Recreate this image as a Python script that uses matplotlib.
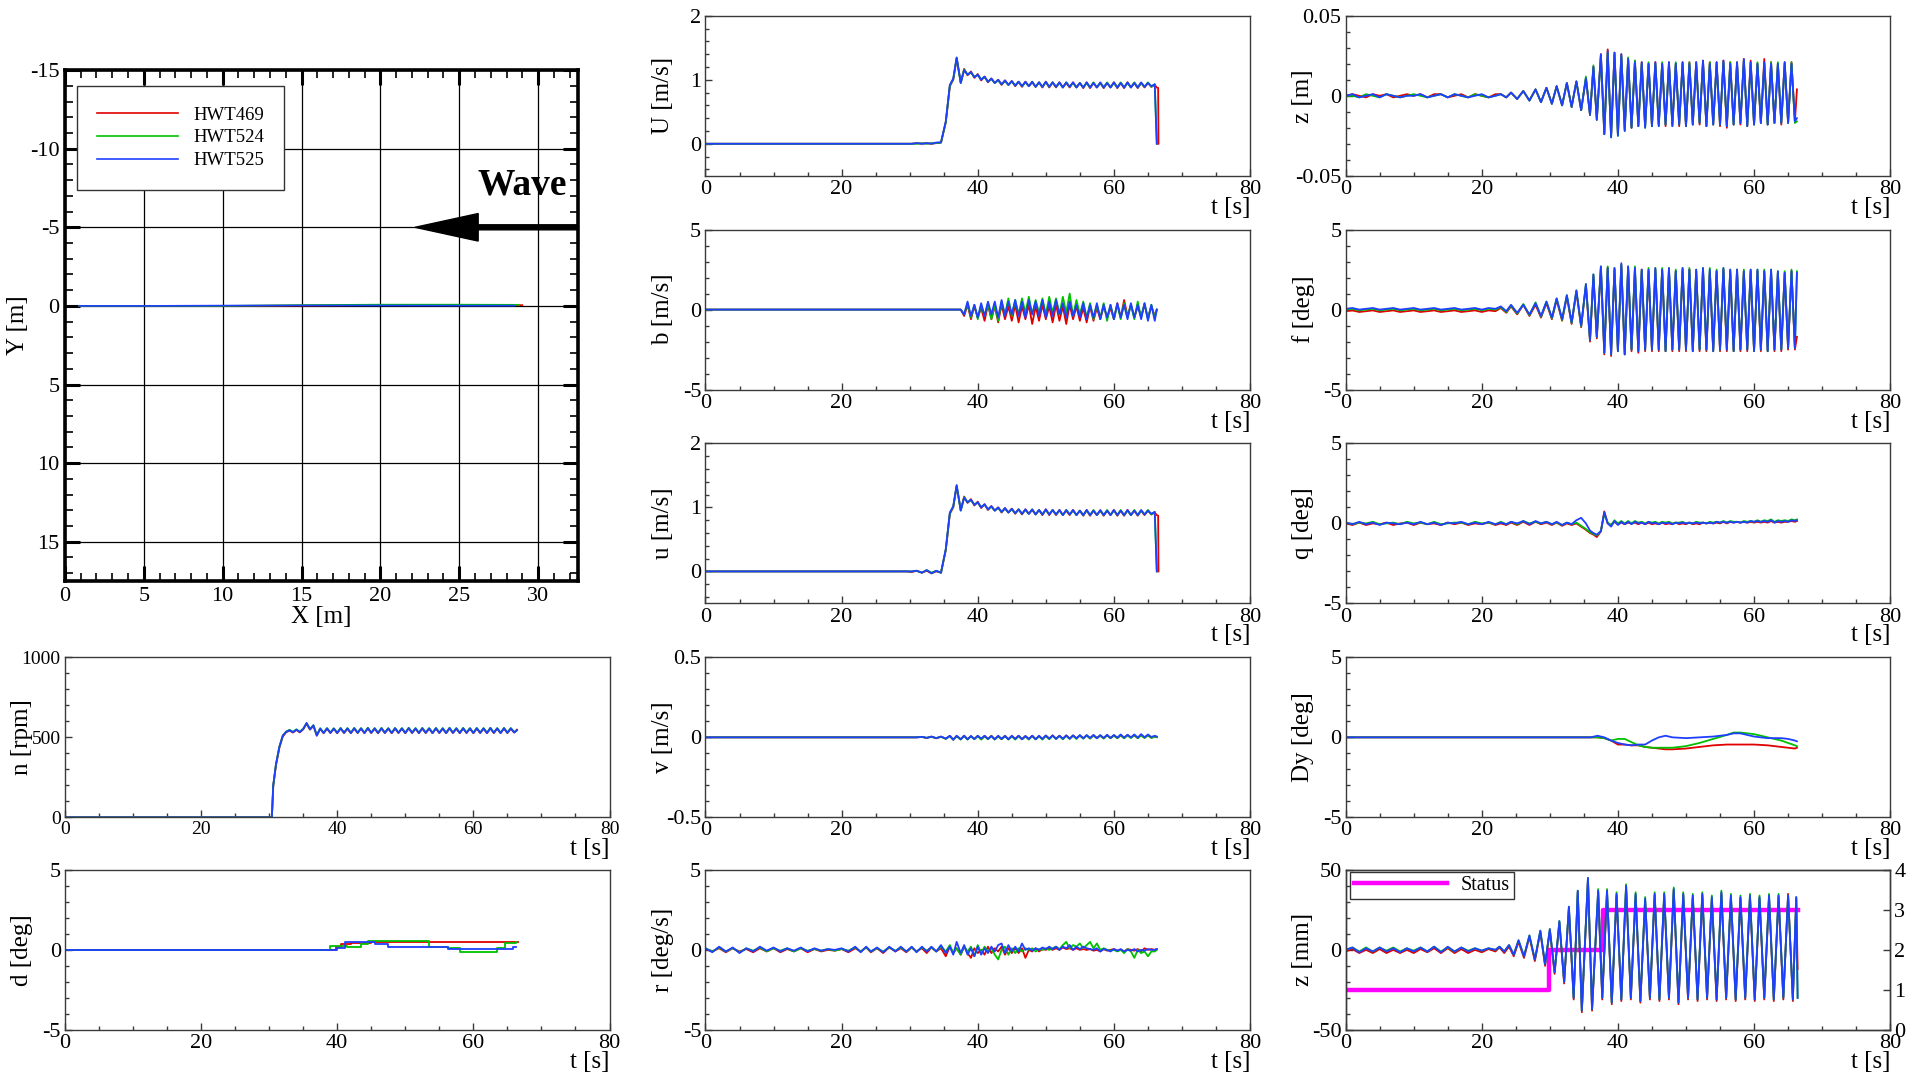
import matplotlib
matplotlib.use("Agg")
import matplotlib.pyplot as plt
from matplotlib.ticker import MultipleLocator, FuncFormatter

plt.rcParams["font.family"] = ["Liberation Serif", "DejaVu Serif"]
plt.rcParams["axes.unicode_minus"] = False

runs = ["HWT469", "HWT524", "HWT525"]
colors = ["#e00000", "#00c000", "#1f3fff"]

# ---------------- trajectory (X-Y) ----------------
X_HWT469 = [0.9, 5, 10, 15, 20, 25, 29.0]
Y_HWT469 = [0.0, 0.0, 0.0, -0.02, -0.05, -0.05, -0.05]
X_HWT524 = [0.9, 5, 10, 15, 20, 25, 28.8]
Y_HWT524 = [0.0, 0.0, 0.0, -0.05, -0.08, -0.08, -0.07]
X_HWT525 = [0.9, 5, 10, 15, 20, 25, 28.5]
Y_HWT525 = [0.0, 0.0, -0.02, -0.03, -0.03, -0.02, -0.02]

# ---------------- common time knots ----------------
t_enc = [0, 1, 2, 3, 4, 5, 6, 7, 8, 9,
         10, 11, 12, 13, 14, 15, 16, 17, 18, 19,
         20, 21, 22, 22.8, 23.6, 24.3, 25.2, 26.1, 27.0, 27.9,
         28.7, 29.5, 30.3, 31.0, 31.8, 32.5, 33.2, 33.9, 34.6, 35.3,
         35.9, 36.4, 36.9, 37.5, 38.0, 38.5, 39.0, 39.5, 40.0, 40.5,
         41.0, 41.5, 42.0, 42.5, 43.0, 43.5, 44.0, 44.5, 45.0, 45.5,
         46.0, 46.5, 47.0, 47.5, 48.0, 48.5, 49.0, 49.5, 50.0, 50.5,
         51.0, 51.5, 52.0, 52.5, 53.0, 53.5, 54.0, 54.5, 55.0, 55.5,
         56.0, 56.5, 57.0, 57.5, 58.0, 58.5, 59.0, 59.5, 60.0, 60.5,
         61.0, 61.5, 62.0, 62.5, 63.0, 63.5, 64.0, 64.5, 65.0, 65.5,
         66.0, 66.3]

t_mot = [0, 28.7, 29.5, 30.3, 31.0, 31.8, 32.5, 33.2, 33.9, 34.6, 35.3,
         35.9, 36.4, 36.9, 37.5, 38.0, 38.5, 39.0, 39.5, 40.0, 40.5,
         41.0, 41.5, 42.0, 42.5, 43.0, 43.5, 44.0, 44.5, 45.0, 45.5,
         46.0, 46.5, 47.0, 47.5, 48.0, 48.5, 49.0, 49.5, 50.0, 50.5,
         51.0, 51.5, 52.0, 52.5, 53.0, 53.5, 54.0, 54.5, 55.0, 55.5,
         56.0, 56.5, 57.0, 57.5, 58.0, 58.5, 59.0, 59.5, 60.0, 60.5,
         61.0, 61.5, 62.0, 62.5, 63.0, 63.5, 64.0, 64.5, 65.0, 65.5,
         66.0, 66.3]

# ---------------- U [m/s] ----------------
U_HWT469 = [0.0, 0.0, 0.0, 0.0, 0.01, 0.0, 0.01, 0.0, 0.01, 0.02, 0.33,
            0.90, 1.00, 1.33, 0.96, 1.17, 1.07, 1.13, 1.03, 1.09, 0.99,
            1.05, 0.96, 1.02, 0.95, 1.00, 0.92, 0.99, 0.92, 0.98, 0.90,
            0.97, 0.89, 0.97, 0.90, 0.96, 0.89, 0.96, 0.88, 0.97, 0.88,
            0.96, 0.88, 0.96, 0.88, 0.95, 0.88, 0.96, 0.88, 0.95, 0.87,
            0.96, 0.87, 0.95, 0.88, 0.95, 0.87, 0.95, 0.88, 0.96, 0.87,
            0.95, 0.87, 0.96, 0.88, 0.95, 0.87, 0.95, 0.88, 0.95, 0.89,
            0.92, 0.88]
U_HWT524 = [0.0, 0.0, 0.0, 0.0, 0.0, 0.01, 0.0, 0.01, 0.01, 0.02, 0.34,
            0.91, 1.01, 1.34, 0.95, 1.16, 1.08, 1.11, 1.05, 1.07, 1.01,
            1.04, 0.97, 1.01, 0.95, 0.99, 0.93, 0.98, 0.92, 0.97, 0.91,
            0.97, 0.90, 0.96, 0.90, 0.97, 0.89, 0.96, 0.89, 0.96, 0.89,
            0.96, 0.89, 0.95, 0.88, 0.96, 0.89, 0.95, 0.88, 0.95, 0.88,
            0.95, 0.88, 0.96, 0.88, 0.95, 0.88, 0.96, 0.88, 0.95, 0.88,
            0.96, 0.88, 0.95, 0.88, 0.96, 0.88, 0.95, 0.89, 0.96, 0.89,
            0.93, 0.0]
U_HWT525 = [0.0, 0.0, 0.0, 0.0, 0.01, 0.0, 0.01, 0.0, 0.02, 0.02, 0.35,
            0.92, 1.02, 1.35, 0.95, 1.15, 1.08, 1.12, 1.04, 1.08, 1.00,
            1.05, 0.97, 1.02, 0.95, 1.00, 0.93, 0.99, 0.92, 0.98, 0.91,
            0.97, 0.90, 0.97, 0.90, 0.97, 0.89, 0.96, 0.89, 0.97, 0.89,
            0.96, 0.89, 0.96, 0.88, 0.96, 0.89, 0.96, 0.88, 0.95, 0.88,
            0.96, 0.88, 0.95, 0.88, 0.96, 0.88, 0.95, 0.88, 0.96, 0.88,
            0.95, 0.88, 0.96, 0.88, 0.95, 0.88, 0.96, 0.89, 0.95, 0.90,
            0.93, 0.0]
U_tail_t_HWT469 = [66.5, 66.55]
U_tail_HWT469 = [0.87, 0.0]

# ---------------- u [m/s] ----------------
u_HWT469 = [0.0, 0.0, 0.0, -0.01, 0.01, -0.02, 0.01, -0.03, 0.0, -0.02, 0.33,
            0.90, 1.00, 1.33, 0.96, 1.17, 1.07, 1.13, 1.03, 1.09, 0.99,
            1.05, 0.96, 1.02, 0.95, 1.00, 0.92, 0.99, 0.92, 0.98, 0.90,
            0.97, 0.89, 0.97, 0.90, 0.96, 0.89, 0.96, 0.88, 0.97, 0.88,
            0.96, 0.88, 0.96, 0.88, 0.95, 0.88, 0.96, 0.88, 0.95, 0.87,
            0.96, 0.87, 0.95, 0.88, 0.95, 0.87, 0.95, 0.88, 0.96, 0.87,
            0.95, 0.87, 0.96, 0.88, 0.95, 0.87, 0.95, 0.88, 0.95, 0.89,
            0.92, 0.88]
u_HWT524 = [0.0, 0.0, 0.0, 0.0, 0.01, -0.02, 0.02, -0.02, 0.01, -0.02, 0.34,
            0.91, 1.01, 1.34, 0.95, 1.16, 1.08, 1.11, 1.05, 1.07, 1.01,
            1.04, 0.97, 1.01, 0.95, 0.99, 0.93, 0.98, 0.92, 0.97, 0.91,
            0.97, 0.90, 0.96, 0.90, 0.97, 0.89, 0.96, 0.89, 0.96, 0.89,
            0.96, 0.89, 0.95, 0.88, 0.96, 0.89, 0.95, 0.88, 0.95, 0.88,
            0.95, 0.88, 0.96, 0.88, 0.95, 0.88, 0.96, 0.88, 0.95, 0.88,
            0.96, 0.88, 0.95, 0.88, 0.96, 0.88, 0.95, 0.89, 0.96, 0.89,
            0.93, 0.0]
u_HWT525 = [0.0, 0.0, 0.0, 0.0, 0.01, -0.02, 0.02, -0.03, 0.01, -0.02, 0.35,
            0.92, 1.02, 1.35, 0.95, 1.15, 1.08, 1.12, 1.04, 1.08, 1.00,
            1.05, 0.97, 1.02, 0.95, 1.00, 0.93, 0.99, 0.92, 0.98, 0.91,
            0.97, 0.90, 0.97, 0.90, 0.97, 0.89, 0.96, 0.89, 0.97, 0.89,
            0.96, 0.89, 0.96, 0.88, 0.96, 0.89, 0.96, 0.88, 0.95, 0.88,
            0.96, 0.88, 0.95, 0.88, 0.96, 0.88, 0.95, 0.88, 0.96, 0.88,
            0.95, 0.88, 0.96, 0.88, 0.95, 0.88, 0.96, 0.89, 0.95, 0.90,
            0.93, 0.0]
u_tail_t_HWT469 = [66.5, 66.55]
u_tail_HWT469 = [0.87, 0.0]

# ---------------- b [m/s] ----------------
b_HWT469 = [0, 0, 0, 0, 0, 0, 0, 0, 0, 0, 0,
            0, 0, 0, 0, -0.4, 0.3, -0.6, 0.2, -0.5, 0.1,
            -0.7, 0.3, -0.6, 0.2, -0.8, 0.3, -0.6, 0.2, -0.7, 0.3,
            -0.8, 0.2, -0.6, 0.3, -0.9, 0.2, -0.7, 0.3, -0.6, 0.2,
            -0.8, 0.3, -0.7, 0.2, -0.9, 0.3, -0.6, 0.2, -0.7, 0.1,
            -0.8, 0.2, -0.7, 0.1, -0.6, 0.2, -0.5, 0.1, -0.6, 0.4,
            -0.5, 0.6, -0.4, 0.3, -0.5, 0.2, -0.4, 0.3, -0.5, 0.2,
            -0.4, 0.0]
b_HWT524 = [0, 0, 0, 0, 0, 0, 0, 0, 0, 0, 0,
            0, 0, 0, 0, -0.3, 0.4, -0.5, 0.3, -0.6, 0.3,
            -0.4, 0.4, -0.6, 0.3, -0.7, 0.5, -0.3, 0.7, -0.4, 0.6,
            -0.3, 0.7, -0.2, 0.8, -0.3, 0.6, -0.2, 0.7, -0.3, 0.8,
            -0.2, 0.7, -0.3, 0.8, -0.2, 1.0, -0.4, 0.6, -0.3, 0.5,
            -0.5, 0.4, -0.6, 0.3, -0.5, 0.4, -0.7, 0.3, -0.6, 0.3,
            -0.6, 0.4, -0.5, 0.3, -0.6, 0.5, -0.5, 0.4, -0.6, 0.3,
            -0.5, 0.0]
b_HWT525 = [0, 0, 0, 0, 0, 0, 0, 0, 0, 0, 0,
            0, 0, 0, 0, -0.3, 0.5, -0.4, 0.3, -0.5, 0.4,
            -0.4, 0.5, -0.3, 0.5, -0.5, 0.6, -0.4, 0.5, -0.3, 0.6,
            -0.4, 0.5, -0.5, 0.6, -0.3, 0.5, -0.4, 0.6, -0.5, 0.5,
            -0.4, 0.6, -0.3, 0.4, -0.5, 0.5, -0.4, 0.3, -0.5, 0.4,
            -0.6, 0.3, -0.5, 0.4, -0.6, 0.3, -0.5, 0.3, -0.6, 0.4,
            -0.5, 0.3, -0.6, 0.4, -0.5, 0.3, -0.6, 0.4, -0.7, 0.3,
            -0.7, 0.0]

# ---------------- v [m/s] ----------------
v_HWT469 = [0, 0, 0, 0, 0, 0.002, -0.004, 0.004, -0.006, 0.004, -0.008,
            0.008, -0.014, 0.008, -0.012, 0.010, -0.012, 0.008, -0.010, 0.008, -0.012,
            0.008, -0.010, 0.010, -0.012, 0.008, -0.010, 0.010, -0.012, 0.008, -0.010,
            0.010, -0.012, 0.008, -0.010, 0.010, -0.012, 0.008, -0.010, 0.010, -0.008,
            0.012, -0.008, 0.010, -0.010, 0.012, -0.008, 0.012, -0.006, 0.010, -0.006,
            0.012, -0.006, 0.012, -0.004, 0.010, -0.006, 0.012, -0.004, 0.010, -0.004,
            0.012, -0.004, 0.014, -0.002, 0.012, -0.004, 0.014, -0.002, 0.012, -0.002,
            0.004, 0.002]
v_HWT524 = [0, 0, 0, 0, 0, 0.003, -0.003, 0.004, -0.005, 0.004, -0.010,
            0.008, -0.015, 0.006, -0.014, 0.008, -0.014, 0.006, -0.012, 0.008, -0.014,
            0.006, -0.012, 0.008, -0.014, 0.006, -0.012, 0.008, -0.014, 0.006, -0.014,
            0.008, -0.012, 0.006, -0.014, 0.008, -0.012, 0.006, -0.014, 0.008, -0.012,
            0.010, -0.010, 0.008, -0.012, 0.010, -0.010, 0.010, -0.010, 0.012, -0.008,
            0.012, -0.008, 0.012, -0.006, 0.012, -0.008, 0.014, -0.006, 0.012, -0.006,
            0.014, -0.006, 0.012, -0.004, 0.014, -0.006, 0.012, -0.004, 0.014, -0.004,
            0.004, 0.000]
v_HWT525 = [0, 0, 0, 0, 0, 0.003, -0.003, 0.005, -0.005, 0.005, -0.008,
            0.010, -0.015, 0.010, -0.012, 0.010, -0.012, 0.008, -0.010, 0.010, -0.008,
            0.010, -0.010, 0.008, -0.012, 0.010, -0.010, 0.008, -0.012, 0.010, -0.010,
            0.010, -0.012, 0.008, -0.010, 0.010, -0.012, 0.010, -0.010, 0.012, -0.008,
            0.012, -0.010, 0.010, -0.008, 0.012, -0.008, 0.012, -0.006, 0.014, -0.006,
            0.014, -0.004, 0.015, -0.005, 0.014, -0.004, 0.016, -0.004, 0.015, -0.002,
            0.018, -0.002, 0.016, 0.000, 0.018, -0.002, 0.020, 0.000, 0.018, 0.002,
            0.010, 0.005]

# ---------------- r [deg/s] ----------------
r_HWT469 = [0.05, -0.1, 0.1, -0.15, 0.1, -0.1, 0.05, -0.15, 0.1, -0.1,
            0.1, -0.15, 0.05, -0.1, 0.1, -0.15, 0.05, -0.1, 0.0, -0.05,
            0.05, -0.15, 0.1, -0.1, 0.15, -0.15, 0.1, -0.2, 0.15, -0.1,
            0.1, -0.15, 0.15, -0.1, 0.1, -0.2, 0.15, -0.1, 0.1, -0.4,
            0.2, -0.2, 0.1, -0.3, 0.2, -0.2, -0.5, 0.1, -0.2, 0.0,
            -0.3, 0.2, -0.2, 0.1, -0.1, 0.2, -0.3, 0.1, -0.2, 0.1,
            -0.2, 0.1, -0.5, 0.0, -0.1, 0.1, -0.1, 0.05, 0.0, 0.1,
            0.0, 0.1, 0.0, 0.15, 0.05, 0.1, 0.0, 0.1, 0.0, 0.05,
            0.0, 0.05, -0.05, 0.0, -0.1, 0.05, -0.05, 0.0, 0.05, -0.05,
            0.0, -0.1, 0.05, 0.0, -0.05, 0.05, -0.1, 0.1, 0.0, 0.05,
            0.0, 0.05]
r_HWT524 = [0.1, -0.1, 0.15, -0.1, 0.1, -0.15, 0.1, -0.05, 0.15, -0.1,
            0.1, -0.05, 0.1, -0.1, 0.1, -0.05, 0.05, -0.05, 0.05, -0.05,
            0.05, -0.05, 0.15, -0.1, 0.15, -0.1, 0.1, -0.1, 0.15, -0.05,
            0.15, -0.1, 0.15, -0.1, 0.15, -0.05, 0.15, -0.1, 0.2, -0.1,
            0.3, -0.2, 0.1, -0.3, 0.2, -0.1, 0.2, -0.4, 0.3, -0.2,
            0.2, -0.1, 0.1, -0.3, -0.6, 0.0, 0.2, -0.3, 0.1, -0.2,
            0.1, -0.1, 0.1, 0.0, 0.1, -0.1, 0.05, 0.0, 0.1, 0.0,
            0.1, 0.2, 0.05, 0.3, 0.5, 0.1, 0.3, 0.2, 0.4, 0.1,
            0.3, 0.5, 0.1, 0.4, 0.0, 0.1, 0.0, -0.05, 0.0, -0.1,
            0.0, -0.2, 0.05, -0.1, -0.5, 0.0, -0.2, -0.1, -0.4, -0.1,
            -0.1, 0.0]
r_HWT525 = [0.1, -0.15, 0.2, -0.1, 0.15, -0.2, 0.1, -0.1, 0.2, -0.05,
            0.15, -0.1, 0.1, -0.05, 0.15, -0.1, 0.1, -0.05, 0.05, 0.0,
            0.1, -0.1, 0.2, -0.15, 0.2, -0.1, 0.15, -0.15, 0.2, -0.1,
            0.2, -0.1, 0.2, -0.15, 0.2, -0.1, 0.2, -0.1, 0.3, -0.2,
            0.2, -0.3, 0.5, -0.2, 0.3, -0.3, 0.1, -0.4, 0.2, -0.3,
            0.1, -0.2, 0.2, -0.1, 0.3, 0.4, -0.2, 0.3, -0.1, 0.2,
            -0.1, 0.4, 0.0, 0.1, -0.05, 0.1, 0.0, 0.15, 0.05, 0.2,
            0.05, 0.2, 0.0, 0.2, 0.1, 0.3, 0.0, 0.2, 0.05, 0.2,
            0.1, 0.05, 0.0, 0.1, -0.1, 0.05, 0.0, -0.1, 0.05, -0.05,
            0.05, -0.1, 0.0, -0.05, 0.05, -0.1, 0.0, -0.05, 0.05, 0.0,
            0.0, 0.05]

# ---------------- z [m] ----------------
zm_HWT469 = [0.000, 0.001, 0.000, -0.001, 0.001, 0.000, 0.001, -0.001, 0.000, 0.001,
             0.000, 0.001, -0.001, 0.001, 0.001, -0.001, 0.000, 0.001, -0.001, 0.001,
             0.000, -0.001, 0.001, 0.001, -0.001, 0.002, -0.002, 0.003, -0.003, 0.004,
             -0.004, 0.005, -0.005, 0.006, -0.006, 0.008, -0.007, 0.009, -0.009, 0.011,
             -0.012, 0.018, -0.015, 0.026, -0.024, 0.029, -0.025, 0.027, -0.024, 0.026,
             -0.021, 0.023, -0.020, 0.022, -0.019, 0.021, -0.019, 0.020, -0.019, 0.021,
             -0.018, 0.020, -0.019, 0.021, -0.018, 0.020, -0.019, 0.021, -0.019, 0.021,
             -0.018, 0.021, -0.018, 0.022, -0.019, 0.021, -0.018, 0.021, -0.019, 0.022,
             -0.020, 0.021, -0.018, 0.021, -0.018, 0.023, -0.019, 0.022, -0.018, 0.020,
             -0.017, 0.023, -0.018, 0.021, -0.017, 0.020, -0.018, 0.021, -0.017, 0.021,
             -0.016, 0.004]
zm_HWT524 = [0.000, 0.000, -0.001, 0.001, 0.000, -0.001, 0.001, 0.000, -0.001, 0.000,
             0.001, 0.000, -0.001, 0.000, 0.001, -0.001, 0.001, 0.000, -0.001, 0.001,
             0.000, -0.001, 0.000, 0.001, -0.001, 0.002, -0.002, 0.003, -0.003, 0.004,
             -0.004, 0.005, -0.005, 0.006, -0.006, 0.008, -0.007, 0.009, -0.009, 0.012,
             -0.012, 0.019, -0.015, 0.025, -0.024, 0.027, -0.026, 0.026, -0.025, 0.025,
             -0.022, 0.024, -0.020, 0.022, -0.019, 0.020, -0.020, 0.021, -0.019, 0.020,
             -0.019, 0.021, -0.018, 0.020, -0.019, 0.021, -0.018, 0.020, -0.019, 0.021,
             -0.018, 0.020, -0.017, 0.021, -0.019, 0.021, -0.018, 0.020, -0.018, 0.021,
             -0.019, 0.021, -0.018, 0.020, -0.017, 0.022, -0.019, 0.020, -0.018, 0.021,
             -0.017, 0.020, -0.018, 0.021, -0.017, 0.021, -0.017, 0.020, -0.017, 0.021,
             -0.017, -0.016]
zm_HWT525 = [0.000, 0.001, -0.001, 0.000, 0.001, -0.001, 0.001, 0.000, -0.001, 0.000,
             0.000, 0.001, -0.001, 0.000, 0.001, -0.001, 0.001, 0.000, -0.001, 0.000,
             0.001, -0.001, 0.000, 0.001, -0.001, 0.002, -0.002, 0.003, -0.003, 0.004,
             -0.004, 0.005, -0.005, 0.006, -0.006, 0.008, -0.007, 0.009, -0.009, 0.011,
             -0.012, 0.018, -0.015, 0.026, -0.024, 0.028, -0.026, 0.027, -0.025, 0.026,
             -0.022, 0.023, -0.020, 0.021, -0.019, 0.021, -0.020, 0.020, -0.019, 0.021,
             -0.019, 0.020, -0.018, 0.021, -0.019, 0.020, -0.018, 0.021, -0.019, 0.020,
             -0.018, 0.021, -0.017, 0.022, -0.019, 0.020, -0.018, 0.021, -0.018, 0.022,
             -0.019, 0.020, -0.018, 0.021, -0.017, 0.023, -0.019, 0.021, -0.018, 0.020,
             -0.017, 0.021, -0.018, 0.020, -0.017, 0.020, -0.017, 0.021, -0.017, 0.020,
             -0.016, -0.014]

# ---------------- f [deg] ----------------
f_HWT469 = [-0.1, -0.05, -0.15, -0.1, -0.05, -0.15, -0.1, -0.05, -0.15, -0.1,
            -0.05, -0.15, -0.1, -0.05, -0.15, -0.1, -0.05, -0.15, -0.1, -0.05,
            -0.15, -0.05, -0.1, 0.1, -0.2, 0.2, -0.3, 0.3, -0.4, 0.3,
            -0.5, 0.4, -0.6, 0.6, -0.7, 0.8, -0.9, 1.1, -1.1, 1.5,
            -2.0, 2.1, -1.8, 2.6, -2.8, 2.6, -2.9, 2.5, -2.6, 2.8,
            -2.8, 2.6, -2.6, 2.5, -2.7, 2.5, -2.6, 2.4, -2.6, 2.5,
            -2.6, 2.5, -2.6, 2.5, -2.6, 2.4, -2.6, 2.5, -2.6, 2.5,
            -2.6, 2.4, -2.6, 2.5, -2.6, 2.4, -2.6, 2.4, -2.6, 2.5,
            -2.6, 2.4, -2.6, 2.5, -2.6, 2.4, -2.6, 2.4, -2.6, 2.4,
            -2.6, 2.4, -2.6, 2.4, -2.6, 2.3, -2.6, 2.3, -2.5, 2.4,
            -2.5, -1.7]
f_HWT524 = [0.0, 0.05, -0.05, 0.0, 0.05, -0.05, 0.0, 0.05, -0.05, 0.0,
            0.05, -0.05, 0.0, 0.05, -0.05, 0.0, 0.05, -0.05, 0.0, 0.05,
            -0.05, 0.05, 0.0, 0.15, -0.15, 0.25, -0.25, 0.35, -0.35, 0.45,
            -0.45, 0.5, -0.55, 0.7, -0.65, 0.9, -0.85, 1.2, -1.05, 1.6,
            -1.9, 2.2, -1.7, 2.7, -2.7, 2.7, -2.8, 2.6, -2.6, 2.8,
            -2.8, 2.7, -2.5, 2.7, -2.6, 2.5, -2.5, 2.6, -2.5, 2.6,
            -2.5, 2.6, -2.6, 2.6, -2.5, 2.5, -2.5, 2.6, -2.5, 2.6,
            -2.6, 2.5, -2.5, 2.6, -2.5, 2.6, -2.6, 2.5, -2.5, 2.6,
            -2.5, 2.5, -2.6, 2.5, -2.5, 2.5, -2.5, 2.5, -2.6, 2.5,
            -2.5, 2.5, -2.6, 2.5, -2.5, 2.4, -2.5, 2.4, -2.4, 2.5,
            -2.4, 2.4]
f_HWT525 = [0.05, 0.1, 0.0, 0.05, 0.1, 0.0, 0.05, 0.1, 0.0, 0.05,
            0.1, 0.0, 0.05, 0.1, 0.0, 0.05, 0.1, 0.0, 0.05, 0.1,
            0.0, 0.1, 0.05, 0.2, -0.1, 0.3, -0.2, 0.3, -0.3, 0.4,
            -0.4, 0.5, -0.5, 0.7, -0.6, 0.9, -0.8, 1.2, -1.0, 1.6,
            -1.9, 2.2, -1.7, 2.7, -2.7, 2.6, -2.8, 2.6, -2.6, 2.9,
            -2.8, 2.7, -2.5, 2.6, -2.6, 2.5, -2.5, 2.5, -2.5, 2.6,
            -2.5, 2.5, -2.6, 2.6, -2.5, 2.4, -2.5, 2.6, -2.5, 2.5,
            -2.6, 2.5, -2.5, 2.6, -2.5, 2.5, -2.6, 2.4, -2.5, 2.6,
            -2.5, 2.5, -2.6, 2.5, -2.5, 2.4, -2.5, 2.5, -2.6, 2.5,
            -2.5, 2.4, -2.6, 2.5, -2.5, 2.4, -2.5, 2.3, -2.4, 2.4,
            -2.4, 2.3]

# ---------------- q [deg] ----------------
q_HWT469 = [0.0, -0.1, 0.05, -0.1, 0.0, -0.05, 0.05, -0.1, 0.0, 0.05,
            -0.1, 0.05, -0.05, 0.0, -0.1, 0.05, -0.05, 0.05, -0.1, 0.0,
            -0.05, 0.05, -0.1, 0.0, -0.1, 0.05, -0.1, 0.1, -0.1, 0.1,
            -0.05, 0.05, -0.1, 0.05, -0.15, 0.0, -0.1, 0.0, -0.2, -0.4,
            -0.6, -0.7, -0.85, -0.5, 0.75, 0.0, -0.1, 0.1, -0.05, 0.05,
            -0.05, 0.05, 0.0, 0.05, -0.05, 0.05, -0.05, 0.05, -0.05, 0.0,
            -0.05, 0.05, -0.05, 0.0, -0.05, 0.05, -0.05, 0.0, -0.05, 0.05,
            -0.05, 0.0, -0.05, 0.05, 0.0, 0.05, 0.0, 0.05, 0.0, 0.1,
            0.0, 0.1, 0.05, 0.1, 0.05, 0.1, 0.05, 0.1, 0.05, 0.1,
            0.05, 0.1, 0.05, 0.15, 0.05, 0.1, 0.05, 0.1, 0.1, 0.15,
            0.1, 0.15]
q_HWT524 = [0.05, -0.05, 0.05, 0.0, 0.1, -0.05, 0.0, 0.05, -0.05, 0.1,
            0.0, 0.05, -0.05, 0.1, -0.05, 0.0, 0.05, 0.05, -0.05, 0.1,
            0.0, 0.05, -0.05, 0.1, -0.05, 0.1, -0.05, 0.15, 0.0, 0.1,
            0.0, 0.1, -0.05, 0.05, -0.1, 0.05, -0.05, 0.05, -0.15, -0.35,
            -0.55, -0.65, -0.75, -0.45, 0.6, 0.05, -0.1, 0.2, 0.0, 0.15,
            0.0, 0.15, 0.0, 0.15, 0.05, 0.1, 0.0, 0.1, 0.05, 0.1,
            0.0, 0.1, 0.05, 0.1, 0.0, 0.05, 0.05, 0.1, 0.0, 0.05,
            0.0, 0.1, 0.05, 0.05, 0.0, 0.1, 0.05, 0.1, 0.05, 0.15,
            0.05, 0.15, 0.1, 0.1, 0.05, 0.15, 0.1, 0.15, 0.1, 0.2,
            0.1, 0.2, 0.15, 0.25, 0.1, 0.2, 0.15, 0.2, 0.15, 0.25,
            0.2, 0.25]
q_HWT525 = [0.05, -0.05, 0.1, -0.05, 0.05, -0.1, 0.05, 0.0, -0.05, 0.05,
            -0.05, 0.1, -0.05, 0.05, -0.1, 0.05, 0.0, 0.1, -0.05, 0.05,
            -0.05, 0.1, -0.05, 0.05, -0.05, 0.1, 0.0, 0.15, -0.05, 0.15,
            0.0, 0.1, -0.05, 0.1, -0.1, 0.05, -0.05, 0.2, 0.35, 0.0,
            -0.45, -0.6, -0.7, -0.5, 0.7, 0.0, -0.2, 0.15, -0.1, 0.1,
            -0.05, 0.1, -0.05, 0.1, 0.0, 0.05, -0.05, 0.1, 0.0, 0.05,
            -0.05, 0.05, 0.0, 0.05, -0.05, 0.05, 0.0, 0.05, 0.0, 0.05,
            0.0, 0.05, 0.0, 0.05, 0.0, 0.05, 0.0, 0.1, 0.05, 0.1,
            0.05, 0.1, 0.05, 0.1, 0.05, 0.1, 0.05, 0.15, 0.1, 0.15,
            0.1, 0.15, 0.1, 0.2, 0.05, 0.15, 0.1, 0.15, 0.1, 0.2,
            0.15, 0.2]

# ---------------- Dy [deg] ----------------
t_Dy = [0, 20, 36, 37, 38, 39, 40, 41, 42, 43,
        44, 45, 46, 47, 48, 50, 52, 54, 56, 57,
        58, 60, 62, 64, 65, 66, 66.3]
Dy_HWT469 = [0, 0, 0, 0, -0.05, -0.2, -0.45, -0.45, -0.5, -0.5,
             -0.6, -0.65, -0.7, -0.75, -0.75, -0.7, -0.6, -0.5, -0.45, -0.45,
             -0.45, -0.45, -0.5, -0.6, -0.65, -0.7, -0.65]
Dy_HWT524 = [0, 0, 0, 0, -0.05, -0.2, -0.1, -0.1, -0.3, -0.5,
             -0.6, -0.65, -0.65, -0.65, -0.65, -0.55, -0.35, -0.1, 0.15, 0.3,
             0.3, 0.2, 0.0, -0.2, -0.35, -0.5, -0.55]
Dy_HWT525 = [0, 0, 0, 0.1, 0.0, -0.2, -0.35, -0.45, -0.5, -0.45,
             -0.45, -0.2, 0.0, 0.1, 0.0, -0.05, 0.0, 0.05, 0.15, 0.25,
             0.25, 0.05, -0.05, -0.05, -0.1, -0.2, -0.25]

# ---------------- z [mm] (wave probe) ----------------
t_wp = [0, 1, 2, 3, 4, 5, 6, 7, 8, 9,
        10, 11, 12, 13, 14, 15, 16, 17, 18, 19,
        20, 21, 22, 22.6, 23.3, 24.0, 24.7, 25.4, 26.2, 27.0,
        27.8, 28.6, 29.3, 30.0, 30.7, 31.4, 32.1, 32.8, 33.5, 34.1,
        34.7, 35.6, 36.2, 37.1, 37.7, 38.4, 39.1, 39.8, 40.5, 41.2,
        41.9, 42.6, 43.3, 44.0, 44.7, 45.4, 46.1, 46.8, 47.5, 48.2,
        48.9, 49.6, 50.3, 51.0, 51.7, 52.4, 53.1, 53.8, 54.5, 55.2,
        55.9, 56.6, 57.3, 58.0, 58.7, 59.4, 60.1, 60.8, 61.5, 62.2,
        62.9, 63.6, 64.3, 65.0, 65.7, 66.2, 66.4]
zmm_HWT469 = [-1, 0.5, -2, 0, -2, 0.5, -2, 0, -2, 0,
              -2, 0.5, -1.5, 1, -2, 1, -2, 0.5, -2, 0,
              -1.5, 0.5, -1, 1.5, -2, 2, -4, 5, -5, 8,
              -7, 11, -10, 12, -15, 17, -21, 26, -31, 36,
              -39, 44, -38, 36, -31, 36, -34, 34, -32, 39,
              -31, 34, -33, 31, -31, 34, -32, 34, -31, 37,
              -34, 34, -31, 33, -32, 34, -31, 32, -32, 35,
              -31, 33, -32, 32, -31, 33, -32, 32, -31, 33,
              -32, 33, -31, 35, -32, 32, -12]
zmm_HWT524 = [0, 1.5, -1, 1.5, -1, 1.5, -0.5, 1.5, -1, 1,
              -0.5, 1.5, -1, 2, -1, 1.5, -1, 1.5, -0.5, 1,
              -0.5, 1, 0, 2, -1, 3, -3, 6, -4, 9,
              -6, 12, -9, 13, -14, 18, -20, 27, -30, 37,
              -38, 45, -37, 38, -30, 38, -33, 36, -31, 41,
              -30, 36, -32, 33, -30, 36, -31, 36, -30, 39,
              -33, 36, -30, 35, -31, 36, -30, 34, -31, 37,
              -30, 35, -31, 34, -30, 35, -31, 34, -30, 35,
              -31, 35, -30, 34, -31, 33, -30]
zmm_HWT525 = [0, 1.5, -1.5, 1, -1, 1.5, -1, 1, -1.5, 1,
              -1, 1.5, -1, 2, -1.5, 2, -1, 1.5, -1, 1,
              -0.5, 1, 0, 2, -1, 3, -3, 6, -4, 9,
              -6, 12, -9, 13, -14, 18, -20, 27, -30, 37,
              -38, 45, -37, 37, -30, 37, -33, 35, -31, 40,
              -30, 35, -32, 32, -30, 35, -31, 35, -30, 38,
              -33, 35, -30, 34, -31, 35, -30, 33, -31, 36,
              -30, 34, -31, 33, -30, 34, -31, 33, -30, 34,
              -31, 34, -30, 34, -31, 33, -30]

t_status = [0, 29.9, 37.8, 66.5]
status = [1, 2, 3, 3]

# ---------------- n [rpm] ----------------
t_n = [0, 10, 20, 30.4, 30.6, 31.0, 31.5, 32.0, 32.5,
       33.0, 33.5, 34.0, 34.5, 35.0, 35.5, 36.0, 36.5, 37.0, 37.5,
       38.0, 38.5, 39.0, 39.5, 40.0, 40.5, 41.0, 41.5, 42.0, 42.5,
       43.0, 43.5, 44.0, 44.5, 45.0, 45.5, 46.0, 46.5, 47.0, 47.5,
       48.0, 48.5, 49.0, 49.5, 50.0, 50.5, 51.0, 51.5, 52.0, 52.5,
       53.0, 53.5, 54.0, 54.5, 55.0, 55.5, 56.0, 56.5, 57.0, 57.5,
       58.0, 58.5, 59.0, 59.5, 60.0, 60.5, 61.0, 61.5, 62.0, 62.5,
       63.0, 63.5, 64.0, 64.5, 65.0, 65.5,
       66.0, 66.4]
n_HWT469 = [0, 0, 0, 0, 195, 325, 435, 505, 532,
            542, 530, 546, 531, 550, 585, 548, 572, 512, 553,
            526, 554, 527, 553, 526, 555, 527, 554, 526, 555,
            527, 554, 526, 556, 527, 554, 526, 555, 527, 554,
            526, 555, 527, 554, 526, 556, 527, 554, 526, 555,
            527, 554, 526, 555, 527, 554, 526, 556, 527, 554,
            526, 555, 527, 554, 526, 555, 527, 554, 526, 556,
            527, 554, 526, 555, 527, 554,
            530, 548]
n_HWT524 = [0, 0, 0, 0, 200, 332, 442, 512, 536,
            547, 534, 550, 535, 554, 588, 552, 576, 514, 557,
            529, 558, 530, 557, 529, 559, 530, 558, 529, 559,
            530, 558, 529, 560, 530, 558, 529, 559, 530, 558,
            529, 559, 530, 558, 529, 560, 530, 558, 529, 559,
            530, 558, 529, 559, 530, 558, 529, 560, 530, 558,
            529, 559, 530, 558, 529, 559, 530, 558, 529, 560,
            530, 558, 529, 559, 530, 558,
            533, 543]
n_HWT525 = [0, 0, 0, 0, 200, 330, 440, 510, 535,
            545, 532, 548, 533, 552, 590, 550, 575, 510, 555,
            527, 556, 528, 555, 527, 557, 528, 556, 527, 557,
            528, 556, 527, 558, 528, 556, 527, 557, 528, 556,
            527, 557, 528, 556, 527, 558, 528, 556, 527, 557,
            528, 556, 527, 557, 528, 556, 527, 558, 528, 556,
            527, 557, 528, 556, 527, 557, 528, 556, 527, 558,
            528, 556, 527, 557, 528, 556,
            530, 545]

# ---------------- d [deg] (rudder, step-like) ----------------
t_d_HWT469 = [0, 39.8, 40.5, 42.0, 45.0, 66.5]
d_HWT469 = [0, 0.2, 0.35, 0.4, 0.5, 0.5]
t_d_HWT524 = [0, 38.9, 41.5, 43.5, 44.5, 53.0, 53.5, 56.3, 58.1, 63.0, 63.5, 64.7, 66.2, 66.4]
d_HWT524 = [0, 0.25, 0.2, 0.35, 0.55, 0.55, 0.2, 0.1, -0.15, -0.15, 0.1, 0.4, 0.5, 0.5]
t_d_HWT525 = [0, 40.0, 41.2, 45.5, 47.5, 56.3, 65.8, 66.2]
d_HWT525 = [0, 0.1, 0.5, 0.35, 0.2, 0.05, 0.2, 0.2]

# =====================================================================
W_IN, H_IN = 19.27, 10.75
fig = plt.figure(figsize=(W_IN, H_IN), dpi=100)

TICK_FS = 16
LAB_FS = 18
FRAME = "#3a3a3a"


def fmt(v, pos):
    if abs(v) < 1e-9:
        return "0"
    return "%g" % round(v, 6)


def tpanel(rect, ylim, ymaj, ymin, ylabel, tick_fs=TICK_FS):
    ax = fig.add_axes(rect)
    ax.set_xlim(0, 80)
    ax.set_ylim(*ylim)
    ax.xaxis.set_major_locator(MultipleLocator(20))
    ax.xaxis.set_minor_locator(MultipleLocator(5))
    ax.yaxis.set_major_locator(MultipleLocator(ymaj))
    ax.yaxis.set_minor_locator(MultipleLocator(ymin))
    ax.xaxis.set_major_formatter(FuncFormatter(fmt))
    ax.yaxis.set_major_formatter(FuncFormatter(fmt))
    ax.tick_params(which="both", direction="in", top=False, right=False,
                   colors=FRAME, labelcolor="black")
    ax.tick_params(which="major", length=5, width=1, labelsize=tick_fs, pad=3)
    ax.tick_params(which="minor", length=3, width=1)
    for s in ax.spines.values():
        s.set_color(FRAME)
        s.set_linewidth(1.0)
    ax.text(1.0, -0.2, "t [s]", transform=ax.transAxes, ha="right",
            va="center", fontsize=LAB_FS)
    ax.text(-0.078, 0.5, ylabel, transform=ax.transAxes, rotation=90,
            ha="center", va="center", fontsize=LAB_FS)
    return ax


def draw(ax, ts, vs, lw=1.3, **kw):
    for t, v, c in zip(ts, vs, colors):
        n = min(len(t), len(v))
        ax.plot(t[:n], v[:n], color=c, lw=lw, solid_joinstyle="round", **kw)


Lx, Mx, Rx = 0.0337, 0.3661, 0.6983
PW, PH = 0.2826, 0.1488
rows = [0.8365, 0.6376, 0.4387, 0.2397, 0.0420]

# ---------- XY trajectory panel ----------
axT = fig.add_axes([Lx, 0.4595, 0.266, 0.4753])
axT.set_xlim(0, 32.5)
axT.set_ylim(17.5, -15)
axT.xaxis.set_major_locator(MultipleLocator(5))
axT.xaxis.set_minor_locator(MultipleLocator(1))
axT.yaxis.set_major_locator(MultipleLocator(5))
axT.yaxis.set_minor_locator(MultipleLocator(1))
axT.xaxis.set_major_formatter(FuncFormatter(fmt))
axT.yaxis.set_major_formatter(FuncFormatter(fmt))
axT.grid(which="major", color="black", lw=0.9)
axT.tick_params(which="both", direction="in", top=True, right=True)
axT.tick_params(which="major", length=11, width=2.2, labelsize=TICK_FS, pad=4)
axT.tick_params(which="minor", length=6, width=1.2)
for s in axT.spines.values():
    s.set_linewidth(2.6)
    s.set_color("black")
for X, Y, c, lab in zip([X_HWT469, X_HWT524, X_HWT525],
                        [Y_HWT469, Y_HWT524, Y_HWT525], colors, runs):
    axT.plot(X, Y, color=c, lw=1.2, label=lab)
leg = axT.legend(loc="upper left", bbox_to_anchor=(0.023, 0.969), borderaxespad=0,
                 fontsize=13.5, handlelength=4.3, handletextpad=0.8, labelspacing=0.3,
                 borderpad=1.1, frameon=True, fancybox=False, framealpha=1,
                 edgecolor="#333333")
leg.get_frame().set_linewidth(1.0)
axT.arrow(32.5, -5, -10.3, 0, width=0.32, head_width=1.75, head_length=4.0,
          length_includes_head=True, color="black", clip_on=False, zorder=5)
axT.text(29.0, -7.7, "Wave", ha="center", va="center", fontsize=27,
         fontweight="bold", zorder=6)
axT.text(0.5, -0.07, "X [m]", transform=axT.transAxes, ha="center", va="center",
         fontsize=LAB_FS)
axT.text(-0.092, 0.5, "Y [m]", transform=axT.transAxes, rotation=90,
         ha="center", va="center", fontsize=LAB_FS)

# ---------- middle column ----------
ax = tpanel([Mx, rows[0], PW, PH], (-0.5, 2), 1, 0.2, "U [m/s]")
draw(ax, [t_mot] * 3, [U_HWT469, U_HWT524, U_HWT525])
ax.plot(U_tail_t_HWT469, U_tail_HWT469, color=colors[0], lw=1.3)

ax = tpanel([Mx, rows[1], PW, PH], (-5, 5), 5, 1, "b [m/s]")
draw(ax, [t_mot] * 3, [b_HWT469, b_HWT524, b_HWT525])

ax = tpanel([Mx, rows[2], PW, PH], (-0.5, 2), 1, 0.2, "u [m/s]")
draw(ax, [t_mot] * 3, [u_HWT469, u_HWT524, u_HWT525])
ax.plot(u_tail_t_HWT469, u_tail_HWT469, color=colors[0], lw=1.3)

ax = tpanel([Mx, rows[3], PW, PH], (-0.5, 0.5), 0.5, 0.1, "v [m/s]")
draw(ax, [t_mot] * 3, [v_HWT469, v_HWT524, v_HWT525])

ax = tpanel([Mx, rows[4], PW, PH], (-5, 5), 5, 1, "r [deg/s]")
draw(ax, [t_enc] * 3, [r_HWT469, r_HWT524, r_HWT525])

# ---------- right column ----------
ax = tpanel([Rx, rows[0], PW, PH], (-0.05, 0.05), 0.05, 0.01, "z [m]")
draw(ax, [t_enc] * 3, [zm_HWT469, zm_HWT524, zm_HWT525])

ax = tpanel([Rx, rows[1], PW, PH], (-5, 5), 5, 1, "f [deg]")
draw(ax, [t_enc] * 3, [f_HWT469, f_HWT524, f_HWT525])

ax = tpanel([Rx, rows[2], PW, PH], (-5, 5), 5, 1, "q [deg]")
draw(ax, [t_enc] * 3, [q_HWT469, q_HWT524, q_HWT525])

ax = tpanel([Rx, rows[3], PW, PH], (-5, 5), 5, 1, "Dy [deg]")
draw(ax, [t_Dy] * 3, [Dy_HWT469, Dy_HWT524, Dy_HWT525])

ax = tpanel([Rx, rows[4], PW, PH], (-50, 50), 50, 10, "z [mm]")
ax2 = ax.twinx()
ax2.set_ylim(0, 4)
ax2.yaxis.set_major_locator(MultipleLocator(1))
ax2.yaxis.set_major_formatter(FuncFormatter(fmt))
ax2.tick_params(which="major", direction="in", length=5, width=1, colors=FRAME,
                labelcolor="black", labelsize=TICK_FS, pad=3)
for s in ax2.spines.values():
    s.set_color(FRAME)
    s.set_linewidth(1.0)
ax2.step(t_status, status, where="post", color="#ff00ff", lw=3.2, label="Status")
lg2 = ax2.legend(loc="upper left", bbox_to_anchor=(0.008, 0.985), borderaxespad=0,
                 fontsize=14.5, handlelength=4.6, handletextpad=0.7, borderpad=0.2,
                 frameon=True, fancybox=False, framealpha=1, edgecolor="#333333")
lg2.get_frame().set_linewidth(1.0)
draw(ax, [t_wp] * 3, [zmm_HWT469, zmm_HWT524, zmm_HWT525])
ax.set_zorder(ax2.get_zorder() + 1)
ax.patch.set_visible(False)
lg2.remove()
ax.add_artist(lg2)

# ---------- left column lower ----------
ax = tpanel([Lx, rows[3], PW, PH], (0, 1000), 500, 100, "n [rpm]", tick_fs=14)
draw(ax, [t_n] * 3, [n_HWT469, n_HWT524, n_HWT525])

ax = tpanel([Lx, rows[4], PW, PH], (-5, 5), 5, 1, "d [deg]")
for t, v, c in zip([t_d_HWT469, t_d_HWT524, t_d_HWT525],
                   [d_HWT469, d_HWT524, d_HWT525], colors):
    ax.step(t, v, where="post", color=c, lw=1.3)

fig.savefig("out.png", dpi=100)
